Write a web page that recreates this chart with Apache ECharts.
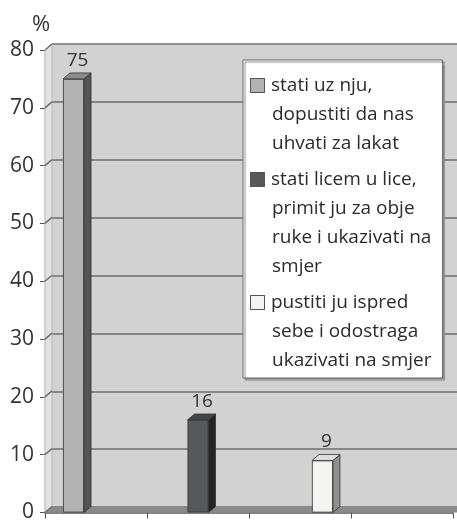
<!DOCTYPE html>
<html>
<head>
<meta charset="utf-8">
<script src="https://cdn.jsdelivr.net/npm/echarts@6/dist/echarts.min.js"></script>
<style>
  html, body { margin: 0; padding: 0; background: #fff; }
  #chart { width: 457px; height: 523px; }
</style>
</head>
<body>
<div id="chart"></div>
<script>
// data
var categories = ['', '', '', ''];
var seriesNames = [
    'stati uz nju,\ndopustiti da nas\nuhvati za lakat',
    'stati licem u lice,\nprimit ju za obje\nruke i ukazivati na\nsmjer',
    'pustiti ju ispred\nsebe i odostraga\nukazivati na smjer'
];
var shares = [75, 16, 9];
var yTicks = [0, 10, 20, 30, 40, 50, 60, 70, 80];

// looks
var frontColors = ['#b2b2b2', '#56595c', '#f4f5f3'];
var sideColors = ['#555555', '#242424', '#8f8f8f'];
var topColors = ['#8a8a8a', '#444444', '#dedede'];
var DX = 7, DY = -6;          // depth of the pseudo 3d
var BAR_W = 21, GAP = 0.07;
var FONT = '"Open Sans", sans-serif';

var myChart = echarts.init(document.getElementById('chart'));

var series = [];
for (var i = 0; i < shares.length; i++) {
    series.push({
        type: 'bar',
        name: seriesNames[i],
        xAxisIndex: 0,
        yAxisIndex: 0,
        barWidth: BAR_W,
        barGap: (GAP * 100) + '%',
        z: 3,
        itemStyle: { color: frontColors[i], borderColor: '#333', borderWidth: 0.8 },
        label: {
            show: true, position: 'top', distance: 5, offset: [4, -4],
            fontSize: 19, color: '#333', fontFamily: FONT
        },
        data: categories.map(function(c, j) { return j === i ? shares[i] : '-'; })
    });
}

// side wall, floor and the little slanted tick lines
series.push({
    type: 'custom',
    xAxisIndex: 0,
    yAxisIndex: 0,
    silent: true,
    z: 1,
    data: yTicks.map(function(v) { return [0, v]; }),
    renderItem: function(params, api) {
        var cs = params.coordSys;
        var x0 = cs.x;
        var y = api.coord([0, api.value(1)])[1];
        var kids = [];
        if (params.dataIndex === 0) {
            var yt = cs.y, yb = cs.y + cs.height;
            kids.push({
                type: 'polygon',
                shape: { points: [[x0, yb], [x0 + DX, yb + DY], [x0 + DX, yt + DY], [x0, yt]] },
                style: { fill: '#e2e2e2', stroke: '#b8b8b8', lineWidth: 1 }
            });
            kids.push({
                type: 'polygon',
                shape: { points: [[x0, yb], [cs.x + cs.width + 20, yb], [cs.x + cs.width + 20, yb + DY], [x0 + DX, yb + DY]] },
                style: { fill: '#8a8a8a' }
            });
        }
        kids.push({
            type: 'line',
            shape: { x1: x0, y1: y, x2: x0 + DX, y2: y + DY },
            style: { stroke: '#6e6e6e', lineWidth: 1.5 }
        });
        return { type: 'group', children: kids };
    }
});

// top and side faces of the bars
series.push({
    type: 'custom',
    xAxisIndex: 0,
    yAxisIndex: 0,
    silent: true,
    z: 4,
    data: shares.map(function(v, i) { return [i, v]; }),
    renderItem: function(params, api) {
        var idx = params.dataIndex;
        var top = api.coord([api.value(0), api.value(1)]);
        var bot = api.coord([api.value(0), 0]);
        var step = BAR_W * (1 + GAP);
        var cx = top[0] + (idx - 1) * step;
        var l = cx - BAR_W / 2, r = cx + BAR_W / 2;
        var yt = top[1], yb = bot[1];
        return {
            type: 'group',
            children: [{
                type: 'polygon',
                shape: { points: [[r, yb], [r + DX, yb + DY], [r + DX, yt + DY], [r, yt]] },
                style: { fill: sideColors[idx], stroke: '#333', lineWidth: 0.8 }
            }, {
                type: 'polygon',
                shape: { points: [[l, yt], [l + DX, yt + DY], [r + DX, yt + DY], [r, yt]] },
                style: { fill: topColors[idx], stroke: '#333', lineWidth: 0.8 }
            }]
        };
    }
});

var rich = {
    t: { fontSize: 19, lineHeight: 29, color: '#2b2b2b', fontFamily: FONT, padding: [0, 0, 0, 7] },
    sp: { width: 14, lineHeight: 29 }
};
frontColors.forEach(function(c, i) {
    rich['i' + i] = { width: 13, height: 13, backgroundColor: c, borderColor: '#555', borderWidth: 1 };
});

myChart.setOption({
    animation: false,
    textStyle: { fontFamily: FONT },
    grid: [{
        // back wall
        show: true,
        left: 52, top: 44, right: -20, bottom: 16,
        backgroundColor: '#d2d2d2',
        borderWidth: 0
    }, {
        left: 45, top: 50, right: 4, bottom: 10
    }],
    legend: {
        data: seriesNames,
        orient: 'vertical',
        left: 243,
        top: 60,
        itemWidth: 0,
        itemHeight: 0,
        itemGap: 17,
        padding: [16, 11, 8, 2],
        backgroundColor: '#fff',
        borderColor: '#6a6a6a',
        borderWidth: 1,
        shadowColor: '#8a8a8a',
        shadowBlur: 1,
        shadowOffsetX: 2,
        shadowOffsetY: 2,
        selectedMode: false,
        textStyle: { rich: rich },
        formatter: function(name) {
            var idx = seriesNames.indexOf(name);
            return name.split('\n').map(function(ln, k) {
                return (k === 0 ? '{i' + idx + '|}' : '{sp|}') + '{t|' + ln + '}';
            }).join('\n');
        }
    },
    xAxis: [{
        type: 'category',
        gridIndex: 1,
        data: categories,
        axisLine: { lineStyle: { color: '#555', width: 1.5 } },
        axisTick: { show: true, length: 6, lineStyle: { color: '#555' } },
        axisLabel: { show: false }
    }, {
        type: 'category',
        gridIndex: 0,
        data: categories,
        show: false
    }],
    yAxis: [{
        type: 'value',
        gridIndex: 1,
        min: 0, max: 80, interval: 10,
        name: '%',
        nameLocation: 'end',
        nameGap: 14,
        nameTextStyle: { fontSize: 22, color: '#333', align: 'center', padding: [0, 8, 0, 0] },
        axisLine: { show: true, lineStyle: { color: '#555', width: 1.2 } },
        axisTick: { show: true, length: 5, lineStyle: { color: '#555' } },
        axisLabel: { fontSize: 21, color: '#333', margin: 11 },
        splitLine: { show: false }
    }, {
        type: 'value',
        gridIndex: 0,
        min: 0, max: 80, interval: 10,
        axisLine: { show: false },
        axisTick: { show: false },
        axisLabel: { show: false },
        splitLine: { show: true, lineStyle: { color: '#6e6e6e', width: 1.5 } }
    }],
    series: series
});
</script>
</body>
</html>
